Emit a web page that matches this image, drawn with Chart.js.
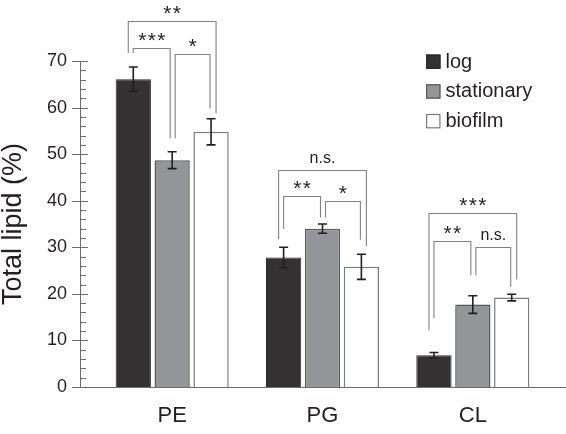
<!DOCTYPE html>
<html>
<head>
<meta charset="utf-8">
<script src="https://cdn.jsdelivr.net/npm/chart.js@4.4.1/dist/chart.umd.min.js"></script>
<style>
  html, body { margin: 0; padding: 0; background: #fff; }
  #wrap { width: 566px; height: 434px; }
</style>
</head>
<body>
<div id="wrap"><canvas id="lipid-chart"></canvas></div>
<script>
const categories = ['PE', 'PG', 'CL']

const log_vals = [66.1, 27.8, 6.8]
const log_err = [2.6, 2.2, 0.6]
const stat_vals = [48.7, 34.0, 17.7]
const stat_err = [1.8, 1.0, 1.9]
const bio_vals = [54.8, 25.8, 19.2]
const bio_err = [2.8, 2.7, 0.7]

const y_ticks = [0, 10, 20, 30, 40, 50, 60, 70]

// [category, from bar, to bar, bracket top, left leg end, right leg end, label]
const sig_brackets = [
    [0, 0, 2, 78.5, 71.7, 58.8, '**'],
    [0, 0, 1, 72.7, 71.7, 53.4, '***'],
    [0, 1, 2, 71.6, 53.4, 59.8, '*'],
    [1, 0, 2, 46.6, 31.7, 30.3, 'n.s.'],
    [1, 0, 1, 41.0, 33.9, 36.4, '**'],
    [1, 1, 2, 39.9, 36.4, 31.6, '*'],
    [2, 0, 2, 37.3, 12.2, 23.1, '***'],
    [2, 0, 1, 31.4, 14.8, 24.0, '**'],
    [2, 1, 2, 30.1, 24.0, 21.5, 'n.s.'],
]

const errors = [log_err, stat_err, bio_err]
const font_name = '"Liberation Sans", Arial, Helvetica, sans-serif'
const ink = '#231f20'
const axis_gray = '#6d6e70'


// axis lines and tick marks drawn by hand so they sit left of the bars
const axis_plugin = {
    id: 'axis_lines',
    afterDraw(chart) {
        let ctx = chart.ctx
        let y = chart.scales.y
        let ax = chart.chartArea.left - 17
        ctx.save()
        ctx.strokeStyle = axis_gray
        ctx.lineWidth = 1
        ctx.beginPath()
        ctx.moveTo(ax + 0.5, y.getPixelForValue(0))
        ctx.lineTo(ax + 0.5, y.getPixelForValue(70))
        for (let v = 0; v <= 70; v += 2) {
            let py = Math.round(y.getPixelForValue(v)) + 0.5
            if (v % 10 === 0) {
                ctx.moveTo(ax - 8, py)
                ctx.lineTo(ax + 8, py)
            } else {
                ctx.moveTo(ax, py)
                ctx.lineTo(ax + 6, py)
            }
        }
        let py0 = Math.round(y.getPixelForValue(0)) + 0.5
        ctx.moveTo(ax, py0)
        ctx.lineTo(chart.width, py0)
        ctx.stroke()
        ctx.restore()
    }
}


const error_plugin = {
    id: 'error_bars',
    afterDatasetsDraw(chart) {
        let ctx = chart.ctx
        let y = chart.scales.y
        ctx.save()
        ctx.strokeStyle = ink
        ctx.lineWidth = 1.6
        chart.data.datasets.forEach((ds, di) => {
            let meta = chart.getDatasetMeta(di)
            meta.data.forEach((bar, i) => {
                let v = ds.data[i]
                let e = errors[di][i]
                let top = y.getPixelForValue(v + e)
                let bot = y.getPixelForValue(v - e)
                ctx.beginPath()
                ctx.moveTo(bar.x, top)
                ctx.lineTo(bar.x, bot)
                ctx.moveTo(bar.x - 4.5, top)
                ctx.lineTo(bar.x + 4.5, top)
                ctx.moveTo(bar.x - 4.5, bot)
                ctx.lineTo(bar.x + 4.5, bot)
                ctx.stroke()
            })
        })
        ctx.restore()
    }
}


function leg_offset(from, to, side) {
    if (to - from === 2) return side === 0 ? -5 : 5
    if (from === 0) return side === 0 ? 0 : -2
    return side === 0 ? 3 : -1
}


const bracket_plugin = {
    id: 'sig_brackets',
    afterDatasetsDraw(chart) {
        let ctx = chart.ctx
        let y = chart.scales.y
        ctx.save()
        sig_brackets.forEach(b => {
            let [cat, from, to, top, end_l, end_r, label] = b
            let x1 = chart.getDatasetMeta(from).data[cat].x + leg_offset(from, to, 0)
            let x2 = chart.getDatasetMeta(to).data[cat].x + leg_offset(from, to, 1)
            let py = Math.round(y.getPixelForValue(top)) + 0.5
            ctx.strokeStyle = '#808285'
            ctx.lineWidth = 1.1
            ctx.beginPath()
            ctx.moveTo(x1, y.getPixelForValue(end_l))
            ctx.lineTo(x1, py)
            ctx.lineTo(x2, py)
            ctx.lineTo(x2, y.getPixelForValue(end_r))
            ctx.stroke()

            let cx = (x1 + x2) / 2
            ctx.fillStyle = ink
            ctx.textAlign = 'center'
            ctx.textBaseline = 'alphabetic'
            if (label[0] === '*') {
                ctx.font = '21px ' + font_name
                let n = label.length
                for (let k = 0; k < n; k++) {
                    ctx.fillText('*', cx + (k - (n - 1) / 2) * 9.5, py - 1.5)
                }
            } else {
                ctx.font = '16px ' + font_name
                ctx.fillText(label, cx, py - 8)
            }
        })
        ctx.restore()
    }
}


const legend_plugin = {
    id: 'box_legend',
    afterDraw(chart) {
        let ctx = chart.ctx
        let lx = 426
        let ly = 54.5
        ctx.save()
        chart.data.datasets.forEach((ds, i) => {
            let top = ly + i * 29.7
            ctx.fillStyle = ds.backgroundColor
            ctx.fillRect(lx, top, 14.5, 14.5)
            ctx.strokeStyle = ds.borderColor
            ctx.lineWidth = 1.2
            ctx.strokeRect(lx + 0.6, top + 0.6, 13.3, 13.3)
            ctx.fillStyle = ink
            ctx.font = '20px ' + font_name
            ctx.textAlign = 'left'
            ctx.textBaseline = 'middle'
            ctx.fillText(ds.label, lx + 19.5, top + 7.5)
        })
        ctx.restore()
    }
}


let ctx = document.getElementById('lipid-chart')

let my_chart = new Chart(ctx, {
    type: 'bar',
    data: {
        labels: categories,
        datasets: [{
            label: 'log',
            data: log_vals,
            backgroundColor: '#333132',
            borderColor: '#2b292a',
            borderWidth: 1,
        },
        {
            label: 'stationary',
            data: stat_vals,
            backgroundColor: '#939598',
            borderColor: '#58595b',
            borderWidth: 1.5,
        },
        {
            label: 'biofilm',
            data: bio_vals,
            backgroundColor: '#ffffff',
            borderColor: '#7a7b7d',
            borderWidth: 1.5,
        }]
    },
    options: {
        responsive: true,
        maintainAspectRatio: false,
        animation: false,
        categoryPercentage: 0.776,
        barPercentage: 0.907,
        layout: { padding: { top: 61, right: 18, bottom: 0, left: 0 } },
        plugins: {
            legend: { display: false },
            tooltip: { enabled: false },
        },
        scales: {
            x: {
                grid: { display: false, drawTicks: false },
                border: { display: false },
                ticks: {
                    color: ink,
                    font: { family: font_name, size: 22 },
                    padding: 16,
                },
                afterFit(scale) { scale.height = 47 },
            },
            y: {
                min: 0,
                max: 70,
                afterBuildTicks(scale) { scale.ticks = y_ticks.map(v => ({ value: v })) },
                grid: { display: false, drawTicks: false },
                border: { display: false },
                ticks: {
                    color: ink,
                    font: { family: font_name, size: 18 },
                    padding: 30,
                },
                title: {
                    display: true,
                    text: 'Total lipid (%)',
                    color: ink,
                    font: { family: font_name, size: 27, lineHeight: 1 },
                    padding: { top: 0.5, bottom: 0 },
                },
                afterFit(scale) { scale.width = 97 },
            }
        }
    },
    plugins: [axis_plugin, error_plugin, bracket_plugin, legend_plugin]
});
</script>
</body>
</html>
